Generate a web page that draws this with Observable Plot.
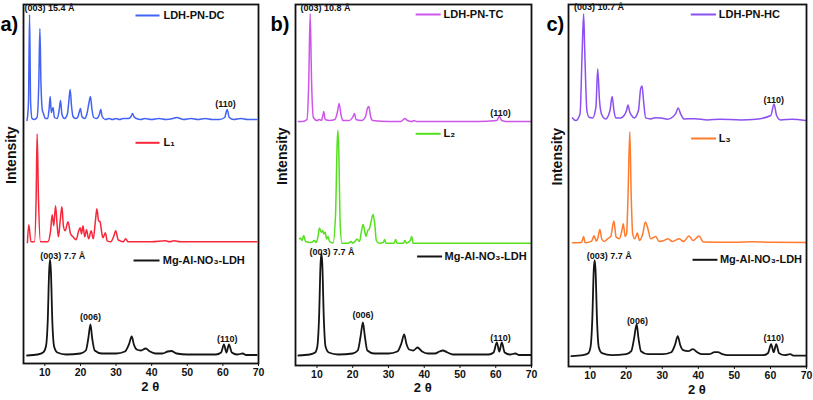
<!DOCTYPE html>
<html><head><meta charset="utf-8">
<script src="https://cdn.jsdelivr.net/npm/d3@7"></script>
<script src="https://cdn.jsdelivr.net/npm/@observablehq/plot@0.6"></script>
<style>
body{margin:0;background:#fff}
#row{display:flex;width:813px;height:400px;overflow:hidden}
</style>
</head><body><div id="row"></div>
<script>
// ---------- data (2θ in degrees, intensity, arbitrary units) ----------
const panelLetters = ["a)", "b)", "c)"];
const seriesNames = [
  ["LDH-PN-DC", "L₁", "Mg-Al-NO₃-LDH"],
  ["LDH-PN-TC", "L₂", "Mg-Al-NO₃-LDH"],
  ["LDH-PN-HC", "L₃", "Mg-Al-NO₃-LDH"]
];
const seriesColors = [
  ["#4363f5", "#f7263a", "#151515"],
  ["#cf55ea", "#55e01e", "#151515"],
  ["#8c4ff2", "#ff7a2c", "#151515"]
];
// vertical offset of each trace in the stack (intensity units)
const stackOffsets = [
  [241, 120.7, 7],
  [243, 122.3, 9],
  [245.3, 123.7, 9.3]
];
const xTicks = [10, 20, 30, 40, 50, 60, 70];

const ldhPNDC = [[5.0,2],[5.4,20],[5.7,108],[6.0,20],[6.4,4],[7.0,3],[7.8,5],[8.3,40],[8.6,94],[8.9,40],[9.3,12],[9.6,9],[10.1,4],[10.8,4],[11.2,14],[11.5,26],[11.8,10],[12.3,15],[12.7,5],[13.5,4],[14.0,12],[14.4,22],[14.8,8],[15.5,4],[16.3,8],[16.7,20],[17.1,33],[17.5,16],[17.9,6],[18.6,4],[19.2,5],[19.7,11],[20.0,14],[20.4,6],[21.2,4],[21.9,10],[22.4,20],[22.8,26],[23.2,14],[23.7,5],[24.5,4],[25.3,8],[25.7,13],[26.1,6],[27,3],[28,4],[29,3],[30,4],[31,3],[32,4],[33.5,4],[34.2,6],[34.6,9],[35.0,6],[35.7,4],[37,3],[38,4],[40,3],[42,4],[44,3],[46,4],[47,5],[49,3],[51,4],[53,3],[55,4],[57,3],[59,3],[60.5,5],[61.2,13],[61.8,5],[63,3],[65,4],[67,3],[69.5,3]];
const l1 = [[5.1,0],[5.48,18],[6.1,1],[7.07,1],[7.55,45],[7.83,109],[8.2,45],[8.76,1],[10.8,1],[11.6,12],[12.06,28],[12.5,17],[13.0,37],[13.46,17],[13.8,6],[14.3,22],[14.8,36],[15.2,17],[15.7,12],[16.5,21],[17.2,9],[17.9,6],[18.8,3],[19.5,12],[19.9,15],[20.3,9],[20.7,17],[21.2,6],[21.7,13],[22.3,4],[23.0,12],[23.6,4],[24.2,22],[24.6,34],[25.1,22],[25.5,21],[25.9,12],[26.3,5],[27.0,10],[27.5,2],[28.5,1],[29.4,7],[29.9,12],[30.6,3],[32.0,1],[32.7,4],[33.4,1],[40,1],[43.9,2],[45,1],[46.3,2],[48,1],[50,1],[55,1],[60,1],[65,1],[69.5,1]];
const mgAlNO3a = [[5.0,1],[8,2],[9.5,4],[10.3,10],[10.8,35],[11.2,85],[11.45,97],[11.7,85],[12.1,35],[12.6,10],[13.5,4],[16,2],[20,3],[21.5,6],[22.2,18],[22.8,32],[23.3,18],[24,6],[26,3],[30,3],[32.5,5],[33.6,12],[34.4,20],[35.0,12],[35.8,7],[37.0,6],[38.3,8],[39.5,5],[41,3],[43,3],[44.5,5],[45.5,5.5],[47,3],[50,2],[55,2],[58,2],[59.5,4],[60.3,12],[61.0,4],[61.7,12],[62.5,4],[64,2],[65.6,3],[66.5,1.5],[69.5,1.5]];

const ldhPNTC = [[4.8,1],[6,1],[7.2,3],[7.7,40],[8.1,109],[8.5,40],[9.0,5],[10.0,2],[10.7,3],[11.2,2],[11.6,6],[11.9,11],[12.3,3],[13.5,2],[15.0,3],[15.7,10],[16.2,19],[16.7,8],[17.3,2],[19.0,2],[20.1,6],[20.5,9],[20.9,3],[22.5,2],[23.6,6],[24.1,14],[24.5,16],[25.0,6],[25.6,2],[30,1],[33.5,1],[34.2,3],[34.6,4],[35.3,2],[36.5,1],[37.2,2],[37.8,1],[45,1],[55,1],[60.3,2],[61.0,6],[61.7,2],[63,1],[69.8,1]];
const l2 = [[5.15,4.3],[5.4,5.3],[5.8,2.7],[6.3,7.7],[6.8,1.7],[8.4,0.7],[9.3,2.7],[9.8,0.7],[10.3,6.7],[10.7,15.3],[11.2,11],[11.6,12.7],[11.9,9.3],[12.3,11],[12.7,4.3],[13.1,6.7],[13.5,2],[14.5,0.3],[15.2,29],[15.65,99],[15.85,113],[16.1,93],[16.5,19],[17.0,0],[18.8,0],[19.55,1.7],[20.0,0],[20.7,2],[21.2,4.3],[21.9,1.7],[22.4,11],[22.9,18.7],[23.4,11],[23.7,6.7],[24.2,12.7],[24.65,14.3],[25.1,21],[25.7,28.7],[26.2,17.7],[26.6,2.7],[27.4,0],[28.6,1],[28.9,3.7],[29.3,0],[31.6,0],[32.0,3.7],[32.4,0],[34.2,0],[34.6,2.7],[35.0,0],[36.1,2.7],[36.5,6.7],[36.9,0],[50,0],[69.8,0]];
const mgAlNO3b = [[4.8,1],[8,2],[9.5,4],[10.1,10],[10.6,40],[11.0,92],[11.25,103],[11.5,92],[11.9,40],[12.4,10],[13.3,4],[16,2],[20,3],[21.4,6],[22.2,20],[22.85,34],[23.4,20],[24.1,6],[26,3],[30,3],[32.5,5],[33.6,13],[34.4,22],[35.0,13],[35.8,7],[37.0,6],[38.1,9],[39.4,5],[41,3],[43,3],[44.3,5],[45.2,6],[46.5,4],[48,2],[55,2],[58,2],[59.4,4],[60.3,14],[61.0,5],[61.7,14],[62.5,4],[64,2],[65.5,3],[66.5,1.5],[69.8,1.5]];

const ldhPNHC = [[5.1,3.3],[6.0,0.7],[7.2,7.3],[7.8,70.7],[8.2,107.3],[8.5,70.7],[9.1,10.7],[9.7,4],[10.7,3.3],[11.6,14],[12.1,52.3],[12.6,20.7],[13.2,6.7],[14.3,2.3],[15.5,10.7],[16.1,24.7],[16.6,10.7],[17.1,3.3],[18.5,3.3],[19.4,5.7],[20.1,10.7],[20.5,16.3],[21.0,9],[21.5,5.7],[22.2,3.3],[23.4,10.7],[24.0,32.3],[24.4,35.3],[24.8,20.7],[25.4,3.3],[26.8,2.3],[28,3.5],[29.6,3.3],[31.4,2],[33.7,7.3],[34.4,13.3],[35.1,7.3],[36.0,2.3],[39,2.5],[42.5,1.3],[46,2],[51.7,1.3],[56,2],[60.1,5.7],[61.0,17.3],[61.7,5.7],[62.8,1.3],[66,2],[69.8,0.7]];
const l3 = [[5.1,0],[7.6,0.3],[8.2,6.3],[8.6,0],[10.4,1.7],[11.1,7],[11.7,1.7],[12.2,5.7],[12.7,13.3],[13.2,4],[13.9,1.3],[14.8,4],[15.7,6.3],[16.6,21.7],[17.2,5.7],[18.1,4],[18.8,12.3],[19.2,19],[19.7,6.3],[20.1,9],[20.5,45.7],[21.0,111],[21.4,45.7],[21.8,9],[22.4,4],[23.1,9.7],[23.7,2.3],[24.6,9],[25.3,20.7],[25.9,15.7],[26.8,4],[28.2,6.3],[29.1,1.3],[30.5,2.3],[31.6,4],[32.8,1.3],[34.7,4],[35.9,1.3],[37.4,6.7],[38.6,2.3],[40.2,6.7],[41.4,0.7],[50,0.5],[55,1],[60,0.5],[69.8,0.3]];
const mgAlNO3c = [[4.8,1],[8,2],[9.5,4],[10.1,10],[10.6,38],[11.0,87],[11.25,97],[11.5,87],[11.9,38],[12.4,10],[13.3,4],[16,2],[20,3],[21.4,6],[22.2,19],[22.9,33],[23.4,19],[24.1,6],[26,3],[30,3],[32.5,5],[33.5,12],[34.3,21],[35.0,12],[35.8,7],[37.2,6],[38.5,8],[39.7,5],[41,3],[43,3],[44.5,5],[45.4,5],[46.7,3],[48,2],[55,2],[58,2],[59.3,4],[60.2,13],[60.9,5],[61.6,13],[62.4,4],[64,2],[65.5,3],[66.5,1.5],[69.8,1.5]];

const traces = [
  [ldhPNDC, l1, mgAlNO3a],
  [ldhPNTC, l2, mgAlNO3b],
  [ldhPNHC, l3, mgAlNO3c]
];

// peak annotations: [2θ, intensity, text, anchor]
const peakLabelsA = [[4.3,355,"(003) 15.4 Å","start"],[60.7,259,"(110)","middle"],[15.0,107.3,"(003) 7.7 Å","middle"],[22.8,46.3,"(006)","middle"],[61.2,24,"(110)","middle"]];
const peakLabelsB = [[5.4,357,"(003) 10.8 Å","start"],[61.3,252.3,"(110)","middle"],[14.2,113.3,"(003) 7.7 Å","middle"],[22.9,50,"(006)","middle"],[61.3,27.7,"(110)","middle"]];
const peakLabelsC = [[5.5,359.3,"(003) 10.7 Å","start"],[60.9,266,"(110)","middle"],[15.3,110.3,"(003) 7.7 Å","middle"],[23.1,45.3,"(006)","middle"],[60.9,28.7,"(110)","middle"]];
const peakLabels = [peakLabelsA, peakLabelsB, peakLabelsC];

// legend entries: [x1, x2, textX, y] per series, in data units
const legendA = [[35.45,42.2,43.3,348],[35.45,42.2,43.3,220.7],[34.9,42.2,43.1,103]];
const legendB = [[37.6,44.6,45.4,351],[37.6,44.6,45.4,231.7],[38.0,45.0,45.7,109]];
const legendC = [[37.9,44.9,45.7,352],[38.0,44.9,45.7,228],[38.4,45.3,46.0,106.7]];
const legends = [legendA, legendB, legendC];

// ---------- layout ----------
const layouts = [
  {width: 270, ml: 23, mr: 12, mb: 37, letterDx: -23, intDx: -12, titleDy: 27},
  {width: 270, ml: 25, mr: 9,  mb: 35, letterDx: -25, intDx: -13, titleDy: 26},
  {width: 273, ml: 28, mr: 7,  mb: 34, letterDx: -22, intDx: -11, titleDy: 27}
];
const axisTitleX = 39.6;
const fontFamily = "'Liberation Sans', Arial, Helvetica, sans-serif";

const row = document.getElementById("row");
layouts.forEach((L, p) => {
  const H = 400, mt = 4;
  const yMax = H - mt - L.mb;
  const rows = [];
  traces[p].forEach((tr, s) => {
    tr.forEach(([t, v]) => rows.push({t, v: v + stackOffsets[p][s], s}));
  });
  const legendRows = legends[p].map((d, s) => ({x1: d[0], x2: d[1], tx: d[2], y: d[3], name: seriesNames[p][s], color: seriesColors[p][s]}));
  const labelRows = peakLabels[p].map(d => ({x: d[0], y: d[1], text: d[2], anchor: d[3]}));
  const chart = Plot.plot({
    width: L.width, height: H,
    marginTop: mt, marginBottom: L.mb, marginLeft: L.ml, marginRight: L.mr,
    style: {fontFamily, fontWeight: "bold", fontSize: "10.5px", color: "#111", background: "#fff"},
    x: {domain: [4, 70]},
    y: {domain: [0, yMax], axis: null},
    marks: [
      Plot.axisX({ticks: xTicks, tickSize: 3, tickPadding: 2, label: null, tickFormat: d => String(d)}),
      ...[0, 1, 2].map(s => Plot.line(rows.filter(r => r.s === s), {x: "t", y: "v", stroke: seriesColors[p][s], strokeWidth: s === 2 ? 1.8 : 1.5, curve: "monotone-x"})),
      Plot.frame({stroke: "#111", strokeWidth: 1.8}),
      Plot.link(legendRows, {x1: "x1", x2: "x2", y1: "y", y2: "y", stroke: "color", strokeWidth: 2}),
      Plot.text(legendRows, {x: "tx", y: "y", text: "name", textAnchor: "start", fontSize: 11, fill: "#111"}),
      Plot.text(labelRows.filter(d => d.anchor === "start"), {x: "x", y: "y", text: "text", textAnchor: "start", fontSize: 9, fill: "#111"}),
      Plot.text(labelRows.filter(d => d.anchor === "middle"), {x: "x", y: "y", text: "text", textAnchor: "middle", fontSize: 9, fill: "#111"}),
      Plot.text([panelLetters[p]], {text: d => d, frameAnchor: "top-left", dx: L.letterDx, dy: 12, textAnchor: "start", fontSize: 20, fill: "#000"}),
      Plot.text(["Intensity"], {text: d => d, frameAnchor: "left", dx: L.intDx, rotate: -90, fontSize: 14, fill: "#111"}),
      Plot.text([{x: axisTitleX, label: "2 θ"}], {x: "x", text: "label", frameAnchor: "bottom", dy: L.titleDy, fontSize: 13, fill: "#111"})
    ]
  });
  row.appendChild(chart);
});
</script>
</body></html>
